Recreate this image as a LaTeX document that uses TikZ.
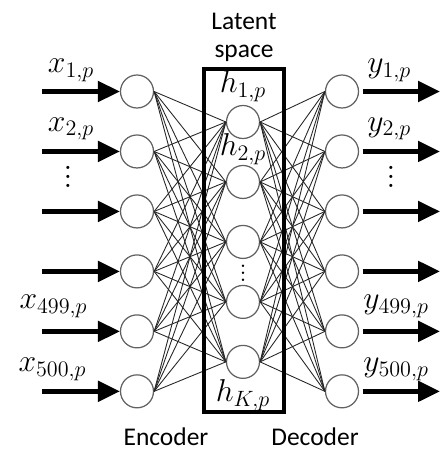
\RequirePackage{fix-cm}
\documentclass[tikz,border=0pt]{standalone}
\usepackage{fontspec}
\newfontfamily\carlito{Carlito}
\usepackage{tikz}
\usetikzlibrary{arrows.meta, positioning}
\newcommand{\stackdots}[1]{\vbox{\baselineskip=#1\lineskiplimit=0pt\hbox{.}\hbox{.}\hbox{.}}}

\begin{document}
\begin{tikzpicture}[x=0.02cm, y=-0.02cm, node distance=0.515cm,
    unit/.style={circle, draw=black!62, line width=0.7pt, fill=white, minimum size=0.66cm, inner sep=0pt},
    link/.style={draw=black!85, line width=0.5pt},
    flow/.style={line width=2.5pt, -{Triangle[length=12.5pt, width=11.5pt]}},
    sym/.style={font=\fontsize{18}{20}\selectfont, inner sep=0pt},
    caption/.style={font=\carlito\fontsize{14.5}{15.5}\selectfont, align=center, inner sep=0pt}]
    \useasboundingbox (0,0) rectangle (441,450);

    % encoder, latent and decoder units
    \node (e1) [unit] at (137,91.5) {};
    \node (e2) [unit, below=of e1] {};
    \node (e3) [unit, below=of e2] {};
    \node (e4) [unit, below=of e3] {};
    \node (e5) [unit, below=of e4] {};
    \node (e6) [unit, below=of e5] {};

    \node (h1) [unit] at (243,122) {};
    \node (h2) [unit, below=of h1] {};
    \node (h3) [unit, below=of h2] {};
    \node (h4) [unit, below=of h3] {};
    \node (h5) [unit, below=of h4] {};

    \node (d1) [unit] at (342,91.5) {};
    \node (d2) [unit, below=of d1] {};
    \node (d3) [unit, below=of d2] {};
    \node (d4) [unit, below=of d3] {};
    \node (d5) [unit, below=of d4] {};
    \node (d6) [unit, below=of d5] {};

    % full connections
    \foreach \i in {1,...,6}
      \foreach \j in {1,...,5} {
        \draw [link] (e\i.east) -- (h\j.west);
        \draw [link] (h\j.east) -- (d\i.west);
      }

    \node (latent) [draw, line width=2.8pt, minimum width=1.6cm, minimum height=6.86cm] at (244,240.5) {};
    \node (lsp) [caption, above=0.1cm of latent] {Latent\\space};

    % inputs and outputs
    \foreach \i in {1,...,6} {
      \coordinate (in\i) at ([xshift=-1.9cm]e\i.center);
      \coordinate (out\i) at ([xshift=1.96cm]d\i.center);
      \draw [flow] (in\i) -- (e\i);
      \draw [flow, shorten <=2pt] (d\i) -- (out\i);
    }

    \node (lx1) [sym, above=0.19cm of in1, xshift=0.58cm] {$x_{1,p}$};
    \node (lx2) [sym, above=0.22cm of in2, xshift=0.58cm] {$x_{2,p}$};
    \node (ldots) [sym, font=\fontsize{22}{22}\selectfont] at (68,177) {\stackdots{5pt}};
    \node (lx499) [sym, above=0.26cm of in5, xshift=0.23cm] {$x_{499,p}$};
    \node (lx500) [sym, above=0.2cm of in6, xshift=0.21cm] {$x_{500,p}$};

    \node (ly1) [sym, above right=0.19cm and 0.16cm of d1.east] {$y_{1,p}$};
    \node (ly2) [sym, above right=0.22cm and 0.16cm of d2.east] {$y_{2,p}$};
    \node (rdots) [sym, font=\fontsize{22}{22}\selectfont] at (391,177) {\stackdots{5pt}};
    \node (ly499) [sym, above right=0.26cm and 0.08cm of d5.east] {$y_{499,p}$};
    \node (ly500) [sym, above right=0.2cm and 0.08cm of d6.east] {$y_{500,p}$};

    \node (lh1) [sym, above=0.06cm of h1] {$h_{1,p}$};
    \node (lh2) [sym, above=0cm of h2] {$h_{2,p}$};
    \node (hdots) [sym, font=\fontsize{17}{17}\selectfont] at (243,273) {\stackdots{4pt}};
    \node (lhk) [sym, below=0cm of h5] {$h_{K,p}$};

    \node (enc) [caption, anchor=base] at (166,445) {Encoder};
    \node (dec) [caption, anchor=base] at (315,445) {Decoder};
\end{tikzpicture}
\end{document}
